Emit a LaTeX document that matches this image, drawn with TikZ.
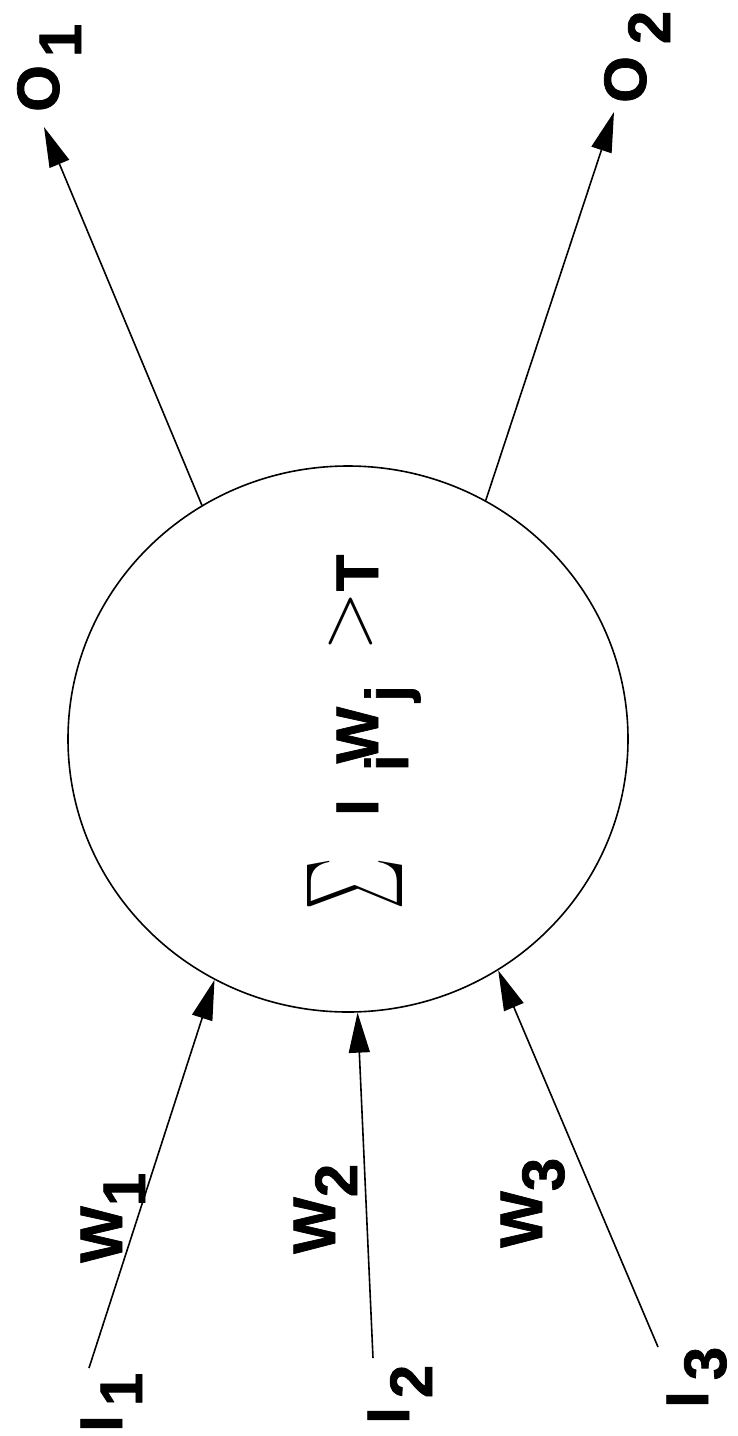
\documentclass[tikz,border=0pt]{standalone}
\usepackage{fontspec}
\setmainfont{Liberation Sans}[BoldFeatures={FakeBold=1.2}]
\usepackage{graphicx}
\usetikzlibrary{arrows.meta,shapes.geometric}

\begin{document}
\begin{tikzpicture}[x=1pt,y=-1pt,
  unit/.style={draw,ellipse,line width=1.6pt,minimum width=560pt,minimum height=546pt,inner sep=0pt},
  lbl/.style={rotate=90,anchor=base west,inner sep=0pt,font=\fontsize{60}{60}\selectfont\bfseries},
  lnk/.style={-{Triangle[length=40pt,width=21pt]},line width=1.6pt}]
  \useasboundingbox (0,0) rectangle (737,1436);
  \node[unit] (cell) at (348,739) {};
  % threshold rule
  \node[rotate=90,inner sep=0pt] (sig) at (354.5,883.5) {\resizebox*{51pt}{95pt}{$\sum$}};
  \node[lbl] (rule) at (378,816) {I\kern28pt\raisebox{-30pt}{i}\kern-9pt W\kern5pt\raisebox{-30pt}{j}\kern34pt\raisebox{8pt}{\resizebox{60pt}{!}{$>$}}T};
  % labels
  \node[lbl] (o1) at (59,112) {O\kern8pt\raisebox{-22pt}{1}};
  \node[lbl] (o2) at (646,103) {O\kern12pt\raisebox{-24pt}{2}};
  \node[lbl] (i1) at (122,1432) {I\kern9pt\raisebox{-20pt}{1}};
  \node[lbl] (i2) at (409,1424) {I\kern9pt\raisebox{-23pt}{2}};
  \node[lbl] (i3) at (708,1408) {I\kern11pt\raisebox{-18pt}{3}};
  \node[lbl] (w1) at (122,1263) {W\raisebox{-23pt}{1}};
  \node[lbl] (w2) at (335,1254) {W\raisebox{-22pt}{2}};
  \node[lbl] (w3) at (542,1248) {W\raisebox{-22pt}{3}};
  % free ends
  \coordinate (i1s) at (89,1368);
  \coordinate (i2s) at (373,1358);
  \coordinate (i3s) at (658,1347);
  \coordinate (o1e) at (44,127);
  \coordinate (o2e) at (614,112);
  \draw[lnk] (i1s) -- (cell.241.4);
  \draw[lnk] (i2s) -- (cell.272.7);
  \draw[lnk] (i3s) -- (cell.303.7);
  \draw[lnk] (cell.122.3) -- (o1e);
  \draw[lnk] (cell.60.2) -- (o2e);
\end{tikzpicture}
\end{document}
